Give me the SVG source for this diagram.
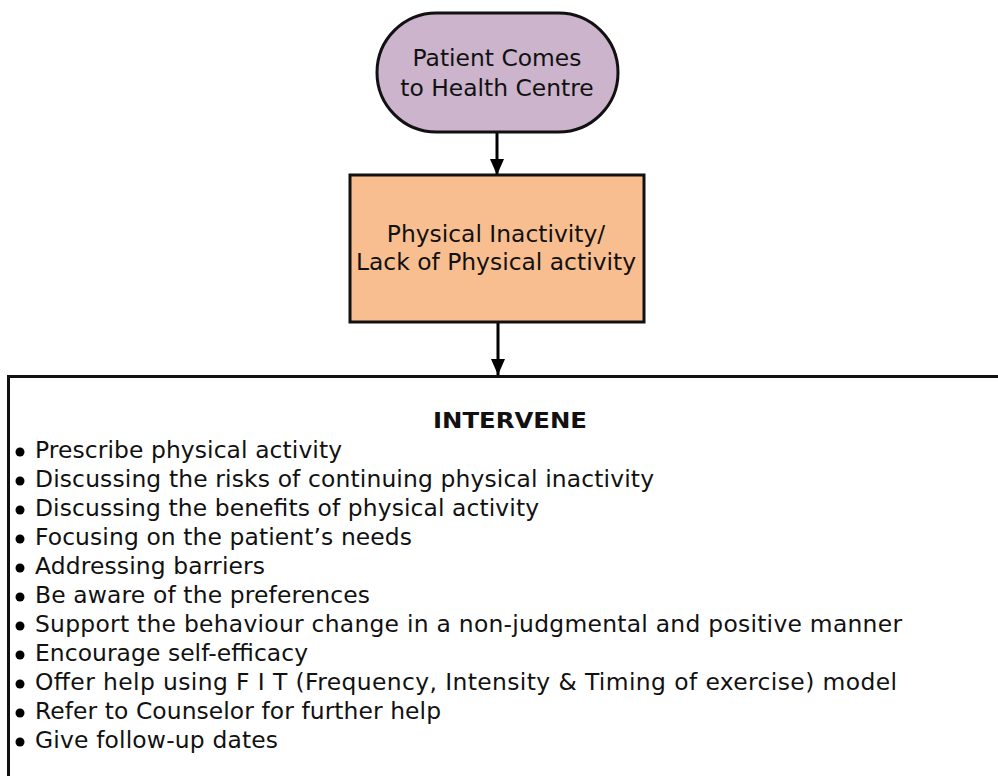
<svg xmlns="http://www.w3.org/2000/svg" width="998" height="776" viewBox="0 0 998 776">
<defs>
<marker id="ah" markerWidth="16" markerHeight="14" refX="16" refY="7" orient="auto" markerUnits="userSpaceOnUse">
<path d="M0,0 L16,7 L0,14 Z" fill="#000"/>
</marker>
<style>
text{font-family:"DejaVu Sans","Verdana",sans-serif;fill:#111;}
.t{font-size:23.4px;text-anchor:middle;}
.b{font-size:23.4px;}
.h{font-size:22px;font-weight:bold;text-anchor:middle;}
.conn{stroke:#000;stroke-width:3;fill:none;}
</style>
</defs>
<rect width="998" height="776" fill="#fff"/>
<g id="connectors">
<line class="conn" x1="497" y1="132" x2="497" y2="175" marker-end="url(#ah)"/>
<line class="conn" x1="498" y1="322" x2="498" y2="375" marker-end="url(#ah)"/>
</g>
<g id="start">
<rect x="377" y="13" width="241" height="119" rx="59.5" ry="59.5" fill="#cbb4cc" stroke="#111" stroke-width="3"/>
<text class="t" x="497" y="66">Patient Comes</text>
<text class="t" x="497" y="96">to Health Centre</text>
</g>
<g id="problem">
<rect x="350" y="175" width="294" height="147" fill="#f9be90" stroke="#111" stroke-width="3"/>
<text class="t" x="496" y="242">Physical Inactivity/</text>
<text class="t" x="496" y="270">Lack of Physical activity</text>
</g>
<g id="intervene">
<path d="M1000,376.5 L8.5,376.5 L8.5,780" fill="none" stroke="#111" stroke-width="3"/>
<text class="h" x="510" y="428" textLength="154" lengthAdjust="spacingAndGlyphs">INTERVENE</text>
<g fill="#000">
<circle cx="20" cy="452" r="4.5"/>
<circle cx="20" cy="481" r="4.5"/>
<circle cx="20" cy="510" r="4.5"/>
<circle cx="20" cy="539" r="4.5"/>
<circle cx="20" cy="568" r="4.5"/>
<circle cx="20" cy="597" r="4.5"/>
<circle cx="20" cy="626" r="4.5"/>
<circle cx="20" cy="655" r="4.5"/>
<circle cx="20" cy="684" r="4.5"/>
<circle cx="20" cy="713" r="4.5"/>
<circle cx="20" cy="742" r="4.5"/>
</g>
<text class="b" x="35" y="458" textLength="307">Prescribe physical activity</text>
<text class="b" x="35" y="487" textLength="619">Discussing the risks of continuing physical inactivity</text>
<text class="b" x="35" y="516" textLength="504">Discussing the benefits of physical activity</text>
<text class="b" x="35" y="545" textLength="377">Focusing on the patient’s needs</text>
<text class="b" x="35" y="574" textLength="230">Addressing barriers</text>
<text class="b" x="35" y="603" textLength="335">Be aware of the preferences</text>
<text class="b" x="35" y="632" textLength="867">Support the behaviour change in a non-judgmental and positive manner</text>
<text class="b" x="35" y="661" textLength="273">Encourage self-efficacy</text>
<text class="b" x="35" y="690" textLength="862">Offer help using F I T (Frequency, Intensity &amp; Timing of exercise) model</text>
<text class="b" x="35" y="719" textLength="406">Refer to Counselor for further help</text>
<text class="b" x="35" y="748" textLength="243">Give follow-up dates</text>
</g>
</svg>
